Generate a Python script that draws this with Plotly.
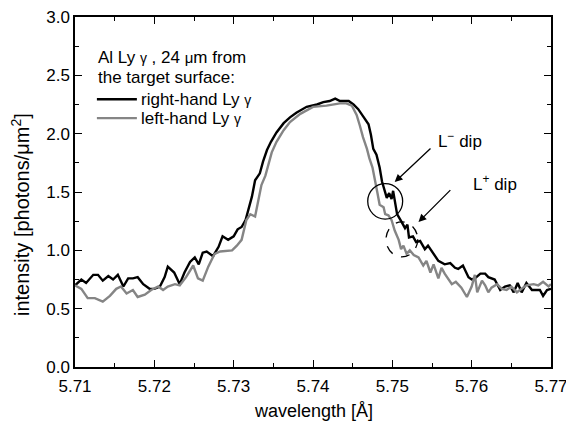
import plotly.graph_objects as go

# ---- data ----
black_x = [5.7100, 5.7108, 5.7114, 5.7123, 5.7129, 5.7135, 5.7142, 5.7148, 5.7154, 5.7161,
           5.7167, 5.7173, 5.7179, 5.7186, 5.7194, 5.7200, 5.7207, 5.7213, 5.7217, 5.7225,
           5.7232, 5.7238, 5.7245, 5.7251, 5.7256, 5.7261, 5.7266, 5.7274, 5.7281, 5.7286,
           5.7293, 5.7300, 5.7305, 5.7310, 5.7315, 5.7318, 5.7323, 5.7327, 5.7333, 5.7337,
           5.7342, 5.7347, 5.7354, 5.7363, 5.7371, 5.7379, 5.7392, 5.7405, 5.7413, 5.7421,
           5.7428, 5.7434, 5.7445, 5.7451, 5.7457, 5.7463, 5.7470, 5.7473, 5.7476, 5.7480,
           5.7484, 5.7487, 5.7490, 5.7493, 5.7496, 5.7499, 5.7501, 5.7506, 5.7512, 5.7516,
           5.7519, 5.7521, 5.7526, 5.7530, 5.7535, 5.7541, 5.7545, 5.7552, 5.7558, 5.7566,
           5.7573, 5.7579, 5.7583, 5.7589, 5.7596, 5.7600, 5.7604, 5.7611, 5.7617, 5.7621,
           5.7629, 5.7636, 5.7642, 5.7648, 5.7653, 5.7658, 5.7663, 5.7669, 5.7676, 5.7686,
           5.7690, 5.7695, 5.7700]
black_y = [0.70, 0.75, 0.72, 0.79, 0.79, 0.74, 0.78, 0.75, 0.79, 0.69,
           0.76, 0.76, 0.77, 0.71, 0.67, 0.67, 0.69, 0.77, 0.86, 0.81,
           0.71, 0.81, 0.90, 0.94, 0.88, 0.98, 0.99, 0.95, 1.03, 1.12,
           1.09, 1.12, 1.18, 1.20, 1.26, 1.33, 1.46, 1.60, 1.66, 1.76,
           1.86, 1.93, 2.01, 2.09, 2.14, 2.18, 2.23, 2.25, 2.27, 2.28,
           2.30, 2.28, 2.28, 2.25, 2.21, 2.15, 2.08, 1.99, 1.87, 1.82,
           1.71, 1.59, 1.51, 1.45, 1.49, 1.44, 1.51, 1.31, 1.24, 1.19,
           1.22, 1.11, 1.12, 1.07, 1.08, 1.01, 1.04, 0.97, 0.91, 0.88,
           0.89, 0.85, 0.84, 0.87, 0.77, 0.75, 0.76, 0.80, 0.80, 0.77,
           0.75, 0.66, 0.69, 0.70, 0.64, 0.72, 0.64, 0.72, 0.66, 0.66,
           0.61, 0.66, 0.67]

gray_x = [5.7100, 5.7108, 5.7116, 5.7125, 5.7135, 5.7144, 5.7152, 5.7158, 5.7165, 5.7173,
          5.7179, 5.7188, 5.7196, 5.7205, 5.7211, 5.7217, 5.7226, 5.7232, 5.7240, 5.7249,
          5.7255, 5.7261, 5.7268, 5.7276, 5.7283, 5.7298, 5.7304, 5.7310, 5.7316, 5.7321,
          5.7327, 5.7331, 5.7335, 5.7340, 5.7344, 5.7348, 5.7354, 5.7363, 5.7371, 5.7384,
          5.7400, 5.7417, 5.7434, 5.7442, 5.7449, 5.7455, 5.7459, 5.7463, 5.7468, 5.7471,
          5.7475, 5.7478, 5.7481, 5.7484, 5.7489, 5.7491, 5.7495, 5.7499, 5.7503, 5.7508,
          5.7511, 5.7514, 5.7518, 5.7522, 5.7527, 5.7533, 5.7539, 5.7543, 5.7548, 5.7552,
          5.7558, 5.7562, 5.7566, 5.7575, 5.7580, 5.7587, 5.7594, 5.7600, 5.7604, 5.7607,
          5.7613, 5.7617, 5.7621, 5.7625, 5.7632, 5.7638, 5.7644, 5.7650, 5.7657, 5.7663,
          5.7669, 5.7678, 5.7684, 5.7690, 5.7697, 5.7700]
gray_y = [0.70, 0.67, 0.59, 0.59, 0.56, 0.61, 0.67, 0.69, 0.63, 0.66,
          0.60, 0.62, 0.66, 0.69, 0.66, 0.69, 0.71, 0.70, 0.77, 0.87,
          0.76, 0.74, 0.86, 0.97, 0.99, 1.00, 1.04, 1.09, 1.26, 1.31,
          1.29, 1.44, 1.56, 1.64, 1.73, 1.84, 1.93, 2.03, 2.10, 2.17,
          2.23, 2.24, 2.26, 2.26, 2.24, 2.16, 2.07, 1.97, 1.87, 1.79,
          1.71, 1.59, 1.50, 1.39, 1.37, 1.31, 1.30, 1.26, 1.17, 1.09,
          1.01, 1.04, 0.97, 1.00, 0.96, 0.94, 0.87, 0.91, 0.81, 0.88,
          0.76, 0.85, 0.80, 0.71, 0.73, 0.68, 0.60, 0.69, 0.79, 0.64,
          0.74, 0.70, 0.64, 0.68, 0.71, 0.67, 0.66, 0.69, 0.64, 0.67,
          0.70, 0.71, 0.70, 0.73, 0.69, 0.71]

x_ticks = [5.71, 5.72, 5.73, 5.74, 5.75, 5.76, 5.77]
y_ticks = [0.0, 0.5, 1.0, 1.5, 2.0, 2.5, 3.0]

FONT = "Arial, Liberation Sans, sans-serif"
GRAY = "#858585"
TXT = 17

fig = go.Figure()
fig.add_trace(go.Scatter(x=black_x, y=black_y, mode="lines",
                         line=dict(color="black", width=2.4), name="right-hand Ly γ",
                         showlegend=False))
fig.add_trace(go.Scatter(x=gray_x, y=gray_y, mode="lines",
                         line=dict(color=GRAY, width=2.4), name="left-hand Ly γ",
                         showlegend=False))

axis_common = dict(showline=True, linecolor="black", linewidth=1.5, mirror="ticks",
                   ticks="inside", ticklen=7, tickwidth=1.3, tickcolor="black",
                   showgrid=False, zeroline=False, ticklabeloverflow="allow",
                   automargin=False,
                   tickfont=dict(family=FONT, size=TXT, color="black"))

fig.update_xaxes(range=[5.71, 5.77], tickvals=x_ticks, tickformat=".2f",
                 ticklabelstandoff=3,
                 minor=dict(ticks="inside", ticklen=4, dtick=0.005, tick0=5.71,
                            tickcolor="black", tickwidth=1.3),
                 **axis_common)
fig.update_yaxes(range=[0, 3.0], tickvals=y_ticks, tickformat=".1f",
                 minor=dict(ticks="inside", ticklen=4, dtick=0.25, tick0=0,
                            tickcolor="black", tickwidth=1.3),
                 **axis_common)

# axis titles
fig.add_annotation(x=0.5, y=-0.127, xref="paper", yref="paper", text="wavelength [Å]",
                   showarrow=False, xanchor="center", yanchor="middle",
                   font=dict(family=FONT, size=18, color="black"))
fig.add_annotation(x=-0.115, y=0.435, xref="paper", yref="paper",
                   text="intensity [photons/μm<sup>2</sup>]", textangle=-90,
                   showarrow=False, xanchor="center", yanchor="middle",
                   font=dict(family=FONT, size=20, color="black"))

g = "<span style='font-size:14px'>γ</span>"
mu = "<span style='font-size:15px'>μ</span>"
annos = [
    (0.044, 0.885, f"Al Ly {g} , 24 {mu}m from"),
    (0.044, 0.828, "the target surface:"),
    (0.135, 0.765, f"right-hand Ly {g}"),
    (0.135, 0.711, f"left-hand Ly {g}"),
]
for ax_, ay_, t in annos:
    fig.add_annotation(x=ax_, y=ay_, xref="paper", yref="paper", text=t, showarrow=False,
                       xanchor="left", yanchor="middle",
                       font=dict(family=FONT, size=TXT, color="black"))

# legend sample lines
fig.add_shape(type="line", xref="paper", yref="paper", x0=0.046, x1=0.130, y0=0.765, y1=0.765,
              line=dict(color="black", width=2.4))
fig.add_shape(type="line", xref="paper", yref="paper", x0=0.046, x1=0.130, y0=0.711, y1=0.711,
              line=dict(color=GRAY, width=2.4))

# dip markers
fig.add_shape(type="circle", xref="x", yref="y", x0=5.7469, x1=5.7513, y0=1.268, y1=1.572,
              line=dict(color="black", width=1.3))
fig.add_shape(type="circle", xref="x", yref="y", x0=5.7492, x1=5.7532, y0=0.944, y1=1.244,
              line=dict(color="black", width=1.3, dash="dash"))

fig.add_annotation(x=5.7503, y=1.585, ax=5.7550, ay=1.885, xref="x", yref="y",
                   axref="x", ayref="y", text="", showarrow=True, arrowhead=2,
                   arrowsize=1.2, arrowwidth=1.3, arrowcolor="black")
fig.add_annotation(x=5.7533, y=1.242, ax=5.7575, ay=1.529, xref="x", yref="y",
                   axref="x", ayref="y", text="", showarrow=True, arrowhead=2,
                   arrowsize=1.2, arrowwidth=1.3, arrowcolor="black")
fig.add_annotation(x=5.7585, y=1.95, xref="x", yref="y", text="L<sup>−</sup> dip",
                   showarrow=False, font=dict(family=FONT, size=TXT, color="black"))
fig.add_annotation(x=5.7629, y=1.58, xref="x", yref="y", text="L<sup>+</sup> dip",
                   showarrow=False, font=dict(family=FONT, size=TXT, color="black"))

fig.update_layout(width=566, height=426, margin=dict(l=75, r=15, t=17, b=59),
                  plot_bgcolor="white", paper_bgcolor="white",
                  font=dict(family=FONT, size=TXT, color="black"))

fig.write_html("out.html", config={"displayModeBar": False},
               post_script="document.body.style.margin='0';")
